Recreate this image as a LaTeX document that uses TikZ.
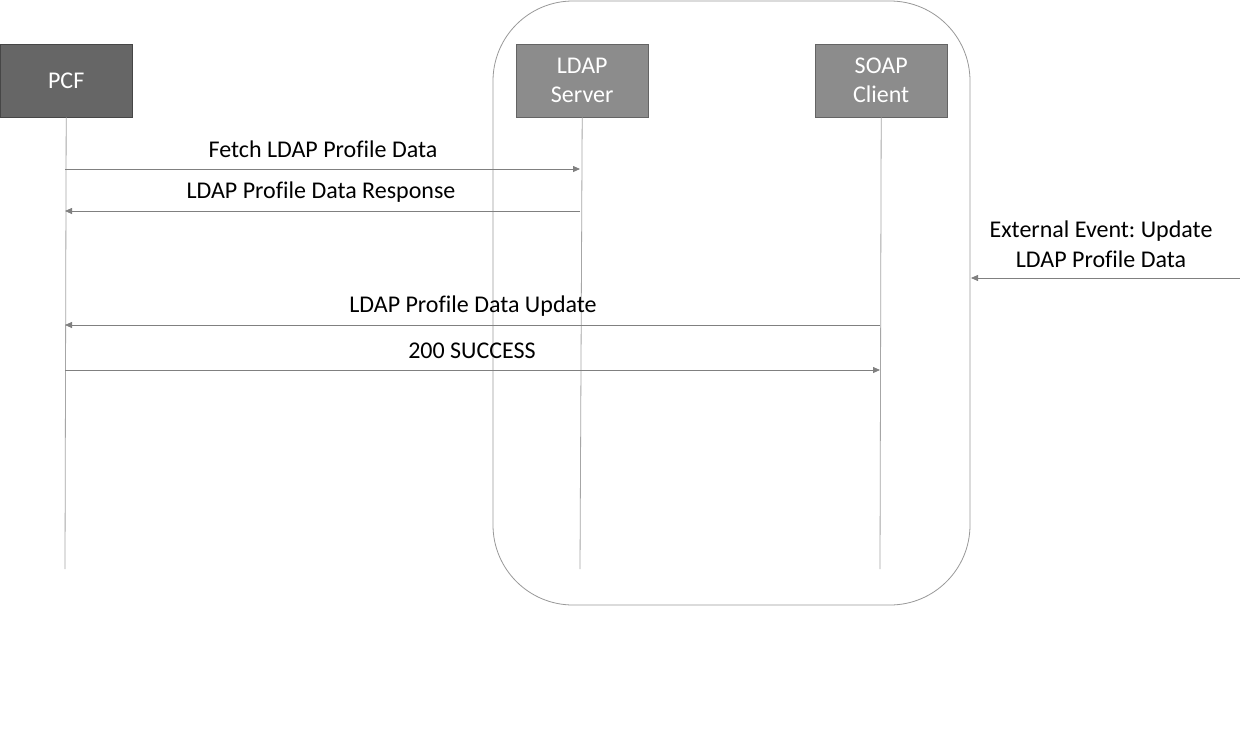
\documentclass[tikz,border=0pt]{standalone}
\usepackage{fontspec}
\setmainfont[Ligatures=NoCommon]{Carlito}
\frenchspacing
\usetikzlibrary{arrows.meta}
\begin{document}
\begin{tikzpicture}[x=1pt,y=-1pt,
  actor/.style={minimum width=132pt, minimum height=73pt, inner sep=0pt,
     text=white, font=\fontsize{24}{29}\selectfont, align=center, anchor=north west},
  lifeline/.style={draw=gray!70, line width=0.8pt},
  msg/.style={draw=gray, line width=0.8pt, -{Triangle[length=7pt,width=6pt]}},
  lbl/.style={font=\fontsize{24}{30}\selectfont, text=black, align=center}]
\useasboundingbox (0,0) rectangle (1240,734);
\fill[white] (0,0) rectangle (1240,734);
\draw[gray!80, line width=0.8pt, rounded corners=80pt] (493,1) rectangle (970,605);
\node[actor, fill={rgb,255:red,102;green,102;blue,102}, draw={rgb,255:red,70;green,70;blue,70}] (pcf) at (0,44) {PCF};
\node[actor, fill={rgb,255:red,140;green,140;blue,140}, draw={rgb,255:red,100;green,100;blue,100}] (ldap) at (516,44) {LDAP\\Server};
\node[actor, fill={rgb,255:red,140;green,140;blue,140}, draw={rgb,255:red,100;green,100;blue,100}] (soap) at (815,44) {SOAP\\Client};
\coordinate (pcfend) at (65,569);
\coordinate (ldapend) at (580,569);
\coordinate (soapend) at (880,569);
\draw[lifeline] (pcf.south) -- (pcfend);
\draw[lifeline] (ldap.south) -- (ldapend);
\draw[lifeline] (soap.south) -- (soapend);
\coordinate (p1) at (65,169); \coordinate (l1) at (580,169);
\coordinate (p2) at (65,211); \coordinate (l2) at (580,211);
\coordinate (p3) at (65,325); \coordinate (s3) at (880,325);
\coordinate (p4) at (65,370); \coordinate (s4) at (880,370);
\coordinate (ext) at (1240,278); \coordinate (box) at (971,278);
\draw[msg] (p1) -- (l1);
\draw[msg] (l2) -- (p2);
\draw[msg] (s3) -- (p3);
\draw[msg] (p4) -- (s4);
\draw[msg] (ext) -- (box);
\node[lbl] (t1) at (323,149) {Fetch LDAP Profile Data};
\node[lbl] (t2) at (321,192) {LDAP Profile Data Response};
\node[lbl] (t3) at (473,306) {LDAP Profile Data Update};
\node[lbl] (t4) at (472,351) {200 SUCCESS};
\node[lbl] (t5) at (1101,244) {External Event: Update\\LDAP Profile Data};
\end{tikzpicture}
\end{document}
